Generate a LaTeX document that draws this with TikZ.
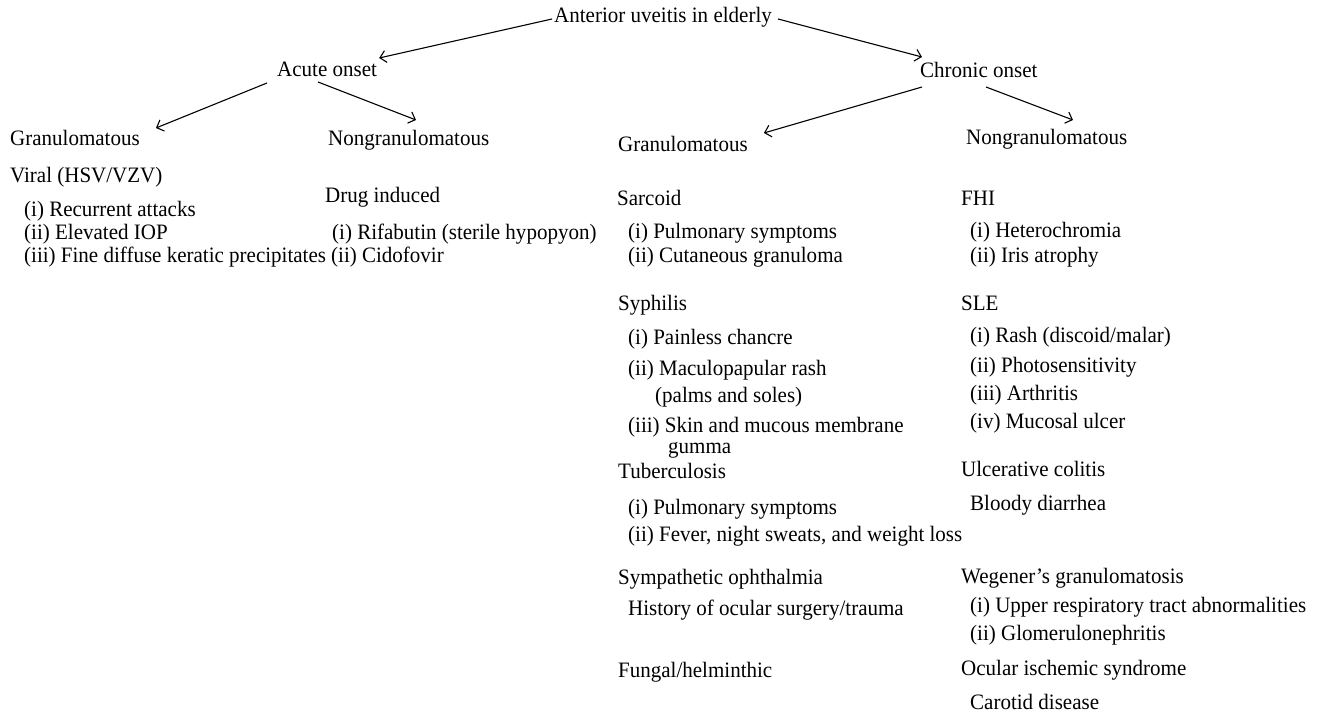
\documentclass[tikz,border=0pt]{standalone}
\usepackage{fontspec}
\setmainfont[FakeStretch=0.955]{Liberation Serif}
\usetikzlibrary{arrows.meta,calc}
\tikzset{
  txt/.style={anchor=base west,inner sep=0pt,font=\fontsize{22}{26}\selectfont},
  arr/.style={line width=1.1pt,-{Straight Barb[length=6pt,width=12pt]}}
}
\begin{document}
\begin{tikzpicture}[x=1pt,y=-1pt]
\fill[white] (0,0) rectangle (1326,714);
\useasboundingbox (0,0) rectangle (1326,714);
% top levels
\node[txt] (title) at (554,23) {Anterior uveitis in elderly};
\node[txt] (acute) at (277,77) {Acute onset};
\node[txt] (chronic) at (920,78) {Chronic onset};
\node[txt] (granL) at (10,146) {Granulomatous};
\node[txt] (nongranL) at (328,146) {Nongranulomatous};
\node[txt] (granR) at (618,152) {Granulomatous};
\node[txt] (nongranR) at (966,145) {Nongranulomatous};
% acute granulomatous
\node[txt] (viral) at (10,183) {Viral (HSV/VZV)};
\node[txt] (v1) at (24,217) {(i) Recurrent attacks};
\node[txt] (v2) at (24,240) {(ii) Elevated IOP};
\node[txt] (v3) at (24,262) {(iii) Fine diffuse keratic precipitates};
% acute nongranulomatous
\node[txt] (drug) at (325,203) {Drug induced};
\node[txt] (d1) at (332,240) {(i) Rifabutin (sterile hypopyon)};
\node[txt] (d2) at (331,262) {(ii) Cidofovir};
% chronic granulomatous
\node[txt] (sarcoid) at (617,206) {Sarcoid};
\node[txt] (s1) at (628,239) {(i) Pulmonary symptoms};
\node[txt] (s2) at (628,263) {(ii) Cutaneous granuloma};
\node[txt] (syph) at (618,310) {Syphilis};
\node[txt] (y1) at (628,344) {(i) Painless chancre};
\node[txt] (y2) at (628,375) {(ii) Maculopapular rash};
\node[txt] (y2b) at (655,402) {(palms and soles)};
\node[txt] (y3) at (628,432) {(iii) Skin and mucous membrane};
\node[txt] (y3b) at (668,453) {gumma};
\node[txt] (tb) at (618,478) {Tuberculosis};
\node[txt] (t1) at (628,514) {(i) Pulmonary symptoms};
\node[txt] (t2) at (628,541) {(ii) Fever, night sweats, and weight loss};
\node[txt] (symp) at (618,584) {Sympathetic ophthalmia};
\node[txt] (sy1) at (628,615) {History of ocular surgery/trauma};
\node[txt] (fung) at (618,677) {Fungal/helminthic};
% chronic nongranulomatous
\node[txt] (fhi) at (961,206) {FHI};
\node[txt] (f1) at (970,238) {(i) Heterochromia};
\node[txt] (f2) at (970,262) {(ii) Iris atrophy};
\node[txt] (sle) at (961,310) {SLE};
\node[txt] (l1) at (970,342) {(i) Rash (discoid/malar)};
\node[txt] (l2) at (970,372) {(ii) Photosensitivity};
\node[txt] (l3) at (970,400) {(iii) Arthritis};
\node[txt] (l4) at (970,428) {(iv) Mucosal ulcer};
\node[txt] (uc) at (961,476) {Ulcerative colitis};
\node[txt] (u1) at (970,510) {Bloody diarrhea};
\node[txt] (weg) at (961,583) {Wegener’s granulomatosis};
\node[txt] (w1) at (970,612) {(i) Upper respiratory tract abnormalities};
\node[txt] (w2) at (970,640) {(ii) Glomerulonephritis};
\node[txt] (oc) at (961,675) {Ocular ischemic syndrome};
\node[txt] (o1) at (970,709) {Carotid disease};
% connectors
\draw[arr] ($(title.base west)+(-2,-4)$) -- ($(acute.base east)+(2,-19)$);
\draw[arr] ($(title.base east)+(6,-4)$) -- ($(chronic.base west)+(2,-21)$);
\draw[arr] ($(acute.base west)+(-10,6)$) -- ($(granL.base east)+(16,-18)$);
\draw[arr] ($(acute.base west)+(41,5)$) -- ($(nongranL.base west)+(88,-26)$);
\draw[arr] ($(chronic.base west)+(2,9)$) -- ($(granR.base east)+(16,-19)$);
\draw[arr] ($(chronic.base west)+(66,9)$) -- ($(nongranR.base west)+(107,-25)$);
\end{tikzpicture}
\end{document}
